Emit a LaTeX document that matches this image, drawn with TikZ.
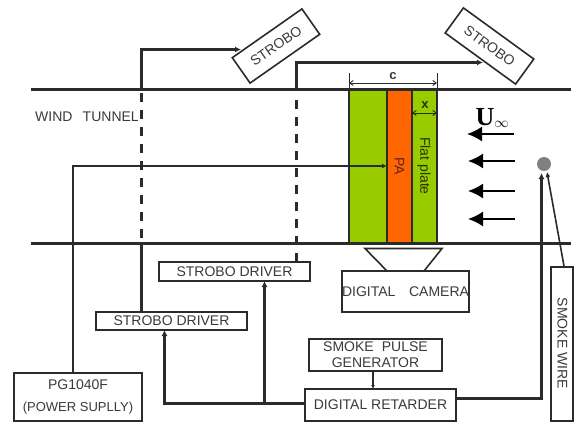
\documentclass[tikz,border=0pt]{standalone}
\usepackage{fontspec,xcolor}
\setmainfont{Liberation Sans}
\newfontfamily\uinffont{Liberation Serif}
\usetikzlibrary{arrows.meta,positioning}
\definecolor{ink}{HTML}{2B2B2B}
\definecolor{label}{HTML}{3A3A3A}
\definecolor{plate}{HTML}{99CC00}
\definecolor{actuator}{HTML}{FF6600}
\definecolor{wirehead}{HTML}{808080}
\begin{document}
\begin{tikzpicture}[x=1pt,y=-1pt, every node/.style={font=\fontsize{14}{16}\selectfont,align=center,text=label,inner sep=0pt,outer sep=0pt}, b/.style={draw=ink,line width=1.6pt,fill=white,minimum width=#1}, b/.default=151pt, w/.style={draw=ink,line width=2.1pt}, d/.style={w,dash pattern=on 9pt off 8pt}, a/.style={-{Latex[length=6pt,width=6pt]},draw=ink,line width=2.1pt}, t/.style={-{Latex[length=5pt,width=5pt]},draw=ink,line width=1.6pt}, flow/.style={-{Latex[length=15pt,width=15pt]},draw=black,line width=1.8pt}, dim/.style={{Straight Barb[length=3.5pt,width=5pt]}-{Straight Barb[length=3.5pt,width=5pt]},line width=.9pt}]
\useasboundingbox (0,0) rectangle (574,423);
% tunnel walls
\coordinate (walltopl) at (31,89.5);\coordinate (walltopr) at (571,89.5);
\coordinate (wallbotl) at (31,243.5);\coordinate (wallbotr) at (571,243.5);
% flat plate
\node[draw=ink,line width=1.6pt,fill=plate,minimum width=88pt,minimum height=154pt] (flatplate) at (393,166.5) {};
\node[draw=ink,line width=1.6pt,fill=actuator,minimum width=25pt,minimum height=154pt] (pa) at (399.5,166.5) {};
\node[rotate=-90,text=ink!75!red] (palabel) at (399.5,166) {PA};
\node[rotate=-90,text=plate!25!black] (flatlabel) at (424,166) {Flat plate};
\draw[w] (walltopl)--(walltopr);
\draw[w] (wallbotl)--(wallbotr);
\node (tunnel) at (87,117) {WIND\hspace{.45em} TUNNEL};
% boxes
\node[b=128pt,minimum height=48pt] (pg) at (78,397) {PG1040F\\[6pt]{\fontsize{13}{15}\selectfont (POWER SUPLLY)}};
\node[b,minimum height=32pt] (retarder) at (380.5,405) {DIGITAL RETARDER};
\node[b=133pt,minimum height=32pt,above=18pt of retarder,xshift=-5pt] (pulse) {SMOKE\hspace{.3em} PULSE\\GENERATOR};
\node[b,minimum height=18.5pt] (drvone) at (171.5,321) {STROBO DRIVER};
\node[b,minimum height=18.5pt] (drvtwo) at (234.5,271.5) {STROBO DRIVER};
\node[b=127pt,minimum height=41pt] (camera) at (405.5,291.5) {DIGITAL\hspace{.7em} CAMERA};
\draw[draw=ink,line width=1.6pt] (387,271)--(365,248.5)--(442,248.5)--(424,271);
\node[b=22pt,minimum height=154pt] (wirebox) at (562,344) {};
\node[rotate=-90] (wirelabel) at (562.5,343.5) {SMOKE WIRE};
\node[b=85pt,minimum height=31pt,rotate=35] (strobone) at (276,46) {STROBO};
\node[b=87pt,minimum height=31pt,rotate=-36] (strobtwo) at (489.5,46) {STROBO};
\node[circle,fill=wirehead,minimum size=14pt] (wiredot) at (544,164) {};
% strobe lines
\coordinate (oneup) at (141.5,244);\coordinate (onedash) at (141.5,238);\coordinate (onewall) at (141.5,89);\coordinate (onecorner) at (141.5,49.5);\coordinate (onetip) at (241,49.5);
\coordinate (twolow) at (296.5,262);\coordinate (twowall) at (296.5,89);\coordinate (twotip) at (483,62.5);\coordinate (twohigh) at (296.5,94);\coordinate (onehigh) at (141.5,93);
\draw[w] (oneup |- drvone.north)--(oneup);
\draw[d] (onedash)--(onehigh);
\draw[a] (onewall)--(onecorner)--(onetip);
\draw[d] (twolow)--(twohigh);
\draw[a] (twowall)--(twowall |- twotip)--(twotip);
% drivers and retarder
\coordinate (retardleft) at (305,403.5);\coordinate (dropone) at (164.5,330);\coordinate (droptwo) at (264.5,281);\coordinate (pulsefoot) at (373,371);\coordinate (retardtop) at (373,389);
\draw[a] (retardleft)-|(dropone);
\draw[a] (retardleft -| droptwo)--(droptwo);
\draw[t,-{Latex[length=4pt,width=4pt]}] (pulsefoot)--(retardtop);
% power
\coordinate (pgtop) at (73,373);\coordinate (patip) at (387,166);
\draw[t] (pgtop)|-(patip);
% smoke wire
\coordinate (retardright) at (456,398.5);\coordinate (dotfoot) at (541.5,173);\coordinate (wiretop) at (564,266);\coordinate (dotside) at (547,172);
\draw[a] (retardright)-|(dotfoot);
\draw[t] (wiretop)--(dotside);
% flow
\coordinate (flowa) at (514,134);\coordinate (flowb) at (515,161);\coordinate (flowc) at (515,191);\coordinate (flowd) at (515,219);
\draw[flow] (flowa)--+(-47,0);\draw[flow] (flowb)--+(-47,0);\draw[flow] (flowc)--+(-47,0);\draw[flow] (flowd)--+(-47,0);
\node[font=\uinffont\bfseries\fontsize{26}{28}\selectfont,text=black,anchor=base west] (uinf) at (475.5,125) {U\raisebox{-2pt}{\fontsize{15}{15}\selectfont$\infty$}};
% dimensions
\coordinate (cleft) at (349,83);\coordinate (cright) at (437,83);\coordinate (xleft) at (412,113);\coordinate (xright) at (437,113);
\draw[line width=.9pt,draw=ink] (349,73)--(349,89);\draw[line width=.9pt,draw=ink] (437,73)--(437,89);
\draw[dim,draw=ink] (cleft)--(cright);
\draw[dim,draw=plate!25!black] (xleft)--(xright);
\node[font=\bfseries\fontsize{13}{14}\selectfont] (clabel) at (393,76.5) {c};
\node[font=\bfseries\fontsize{13}{14}\selectfont,text=plate!25!black] (xlabel) at (425,105) {x};
\end{tikzpicture}
\end{document}
